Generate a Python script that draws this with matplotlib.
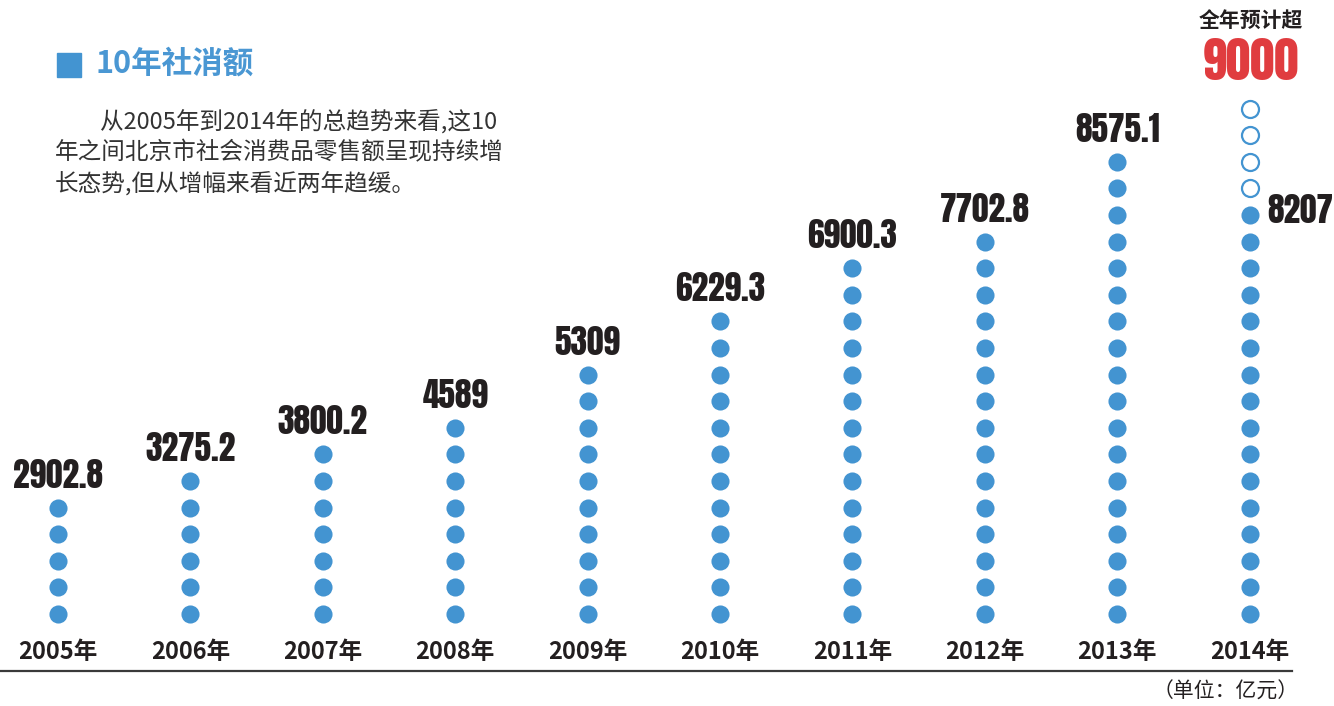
import matplotlib
matplotlib.use("Agg")
import matplotlib.pyplot as plt
from matplotlib.patches import Rectangle

plt.rcParams['font.family'] = ['Noto Sans CJK SC', 'DejaVu Sans']

## data
years = ['2005年', '2006年', '2007年', '2008年', '2009年',
         '2010年', '2011年', '2012年', '2013年', '2014年']
values = ['2902.8', '3275.2', '3800.2', '4589', '5309',
          '6229.3', '6900.3', '7702.8', '8575.1', '8207']
dot_counts = [5, 6, 7, 8, 10, 12, 14, 15, 18, 16]
forecast_dots = 4          # hollow dots stacked on 2014
forecast_note = '全年预计超'
forecast_value = '9000'

title = '10年社消额'
intro = ['从2005年到2014年的总趋势来看,这10',
         '年之间北京市社会消费品零售额呈现持续增',
         '长态势,但从增幅来看近两年趋缓。']
unit = '（单位：亿元）'

BLUE = '#4394d1'
DARK = '#231f20'
RED = '#e03c3f'
NUM_FONT = ['Anton', 'Oswald', 'DejaVu Sans']

W, H = 1334, 706
fig = plt.figure(figsize=(W / 100, H / 100), dpi=100)
fig.patch.set_facecolor('white')

# one column per year, one unit per dot
ax = fig.add_axes([0, 0, 1, 1])
x0, dx = 58, 132.4       # pixel centre of first column, column step
y0, dy = 614, 26.6       # pixel centre of bottom dot, dot step
ax.set_xlim(-x0 / dx, (W - x0) / dx)
ax.set_ylim((y0 - H) / dy, y0 / dy)
ax.axis('off')


def px(x):
    return (x - x0) / dx


def py(y):
    return (y0 - y) / dy


for i, n in enumerate(dot_counts):
    ax.scatter([i] * n, list(range(n)), s=170, color=BLUE, linewidths=0, zorder=3)

last = len(dot_counts) - 1
n_last = dot_counts[last]
ax.scatter([last] * forecast_dots, list(range(n_last, n_last + forecast_dots)),
           s=150, facecolor='white', edgecolor=BLUE, linewidths=1.6, zorder=3)

# value labels
for i, (n, v) in enumerate(zip(dot_counts, values)):
    if i == last:
        ax.text(px(1267), n - 1 - 0.3, v, ha='left', va='baseline',
                family=NUM_FONT, fontsize=24, color=DARK)
    else:
        ax.text(i, n - 1 + 0.75, v, ha='center', va='baseline',
                family=NUM_FONT, fontsize=24, color=DARK)

# year labels + base line
for i, yr in enumerate(years):
    ax.text(i, py(652), yr, ha='center', va='center', fontsize=17,
            weight='bold', color=DARK)
ax.axhline(py(671), xmin=0, xmax=1292 / W, color='#3a3a3a', lw=1.6)
ax.text(px(1299), py(692), unit, ha='right', va='center', fontsize=15, color=DARK)

# forecast note on top right
fig.text(1251 / W, 1 - 21 / H, forecast_note, ha='center', va='center',
         fontsize=15, weight='bold', color=DARK)
fig.text(1251 / W, 1 - 80 / H, forecast_value, ha='center', va='baseline',
         family=NUM_FONT, fontsize=35, color=RED)

# title block
fig.patches.append(Rectangle((57 / W, 1 - 77 / H), 24 / W, 24 / H,
                             transform=fig.transFigure, color=BLUE))
fig.text(96 / W, 1 - 64 / H, title, ha='left', va='center',
         fontsize=22, weight='bold', color='#4a97d3')

# intro paragraph
fig.text(100 / W, 1 - 122 / H, intro[0], ha='left', va='center', fontsize=17, color='#333333')
fig.text(55 / W, 1 - 153 / H, intro[1], ha='left', va='center', fontsize=17, color='#333333')
fig.text(55 / W, 1 - 184 / H, intro[2], ha='left', va='center', fontsize=17, color='#333333')

fig.savefig('out.png', dpi=100, facecolor='white')
